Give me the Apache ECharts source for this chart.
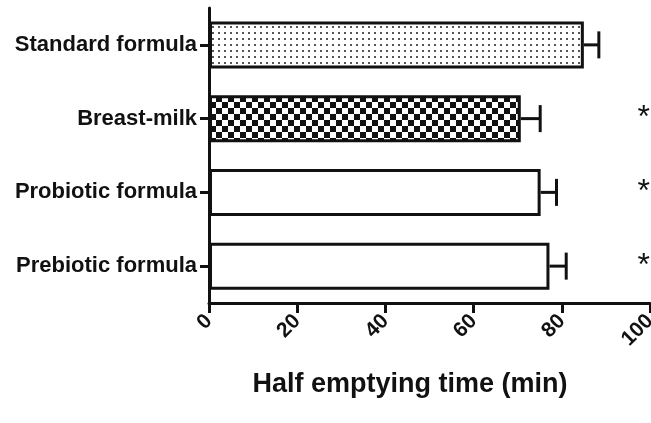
<!DOCTYPE html>
<html>
<head>
<meta charset="utf-8">
<script src="https://cdn.jsdelivr.net/npm/echarts@6/dist/echarts.min.js"></script>
<style>
  html, body { margin: 0; padding: 0; background: #fff; }
  #chart { width: 651px; height: 423px; }
</style>
</head>
<body>
<div id="chart"></div>
<script>
// Gastric half emptying time per feeding group (mean ± SEM)
const categories = ['Standard formula', 'Breast-milk', 'Probiotic formula', 'Prebiotic formula'];
const meanValues = [85.0, 70.7, 75.2, 77.2];
const semValues = [3.4, 4.4, 3.6, 3.8];
const significance = ['', '*', '*', '*'];
const xTicks = [0, 20, 40, 60, 80, 100];
const starPosition = 98.6;
const axisTitle = 'Half emptying time (min)';

const FONT = 'Liberation Sans, Arial, sans-serif';

// Fill textures: fine dots and a checkerboard
function dotPattern() {
  const c = document.createElement('canvas');
  c.width = 6; c.height = 6;
  const g = c.getContext('2d');
  g.fillStyle = '#fff'; g.fillRect(0, 0, 6, 6);
  g.fillStyle = '#555'; g.fillRect(2, 2, 2, 2);
  return c;
}
function checkerPattern() {
  const c = document.createElement('canvas');
  c.width = 12; c.height = 12;
  const g = c.getContext('2d');
  g.fillStyle = '#fff'; g.fillRect(0, 0, 12, 12);
  g.fillStyle = '#111';
  g.fillRect(0, 0, 6, 6);
  g.fillRect(6, 6, 6, 6);
  return c;
}

const fills = [
  { image: dotPattern(), repeat: 'repeat' },
  { image: checkerPattern(), repeat: 'repeat' },
  '#fff',
  '#fff'
];

const barData = meanValues.map((v, i) => ({
  value: v,
  itemStyle: { color: fills[i], borderColor: '#111', borderWidth: 3 }
}));

const errorData = meanValues.map((v, i) => [i, v, semValues[i]]);
const starData = significance.map((s, i) => [starPosition, i, s]);

const chart = echarts.init(document.getElementById('chart'), null, { renderer: 'canvas' });

chart.setOption({
  animation: false,
  backgroundColor: '#fff',
  grid: { left: 209, right: 1, top: 8, bottom: 120, containLabel: false, outerBoundsMode: 'none' },
  graphic: [{
    type: 'text',
    x: 410, y: 385,
    style: {
      text: axisTitle,
      fill: '#111',
      font: 'bold 27px ' + FONT,
      align: 'center',
      verticalAlign: 'middle'
    }
  }],
  xAxis: {
    type: 'value',
    min: xTicks[0],
    max: xTicks[xTicks.length - 1],
    interval: xTicks[1] - xTicks[0],
    axisLine: { show: true, lineStyle: { color: '#111', width: 3 } },
    axisTick: { show: true, length: 10, lineStyle: { color: '#111', width: 3 } },
    splitLine: { show: false },
    axisLabel: {
      rotate: 45, margin: 15, color: '#111',
      fontFamily: FONT, fontWeight: 'bold', fontSize: 21
    }
  },
  yAxis: {
    type: 'category',
    data: categories,
    inverse: true,
    axisLine: { show: true, lineStyle: { color: '#111', width: 3 } },
    axisTick: { show: true, length: 9, alignWithLabel: true, lineStyle: { color: '#111', width: 3 } },
    axisLabel: {
      margin: 12, color: '#111',
      fontFamily: FONT, fontWeight: 'bold', fontSize: 22
    }
  },
  series: [
    {
      type: 'bar',
      data: barData,
      barWidth: 47,
      z: 2
    },
    {
      // error bars: horizontal whisker to mean + SEM with a vertical cap
      type: 'custom',
      data: errorData,
      encode: { x: [1], y: 0 },
      z: 1,
      renderItem: function (params, api) {
        const idx = api.value(0);
        const mean = api.value(1);
        const sem = api.value(2);
        const p0 = api.coord([mean, idx]);
        const p1 = api.coord([mean + sem, idx]);
        const half = 13.5;
        const style = { stroke: '#111', lineWidth: 3, fill: null };
        return {
          type: 'group',
          children: [
            { type: 'line', shape: { x1: p0[0], y1: p0[1], x2: p1[0], y2: p1[1] }, style: style },
            { type: 'line', shape: { x1: p1[0], y1: p1[1] - half, x2: p1[0], y2: p1[1] + half }, style: style }
          ]
        };
      }
    },
    {
      // significance markers
      type: 'custom',
      data: starData,
      encode: { x: 0, y: 1 },
      z: 3,
      renderItem: function (params, api) {
        const p = api.coord([api.value(0), api.value(1)]);
        return {
          type: 'text',
          x: p[0], y: p[1],
          style: {
            text: significance[params.dataIndex],
            fill: '#111',
            font: 'normal 32px ' + FONT,
            align: 'center',
            verticalAlign: 'middle'
          }
        };
      }
    }
  ]
});
</script>
</body>
</html>
